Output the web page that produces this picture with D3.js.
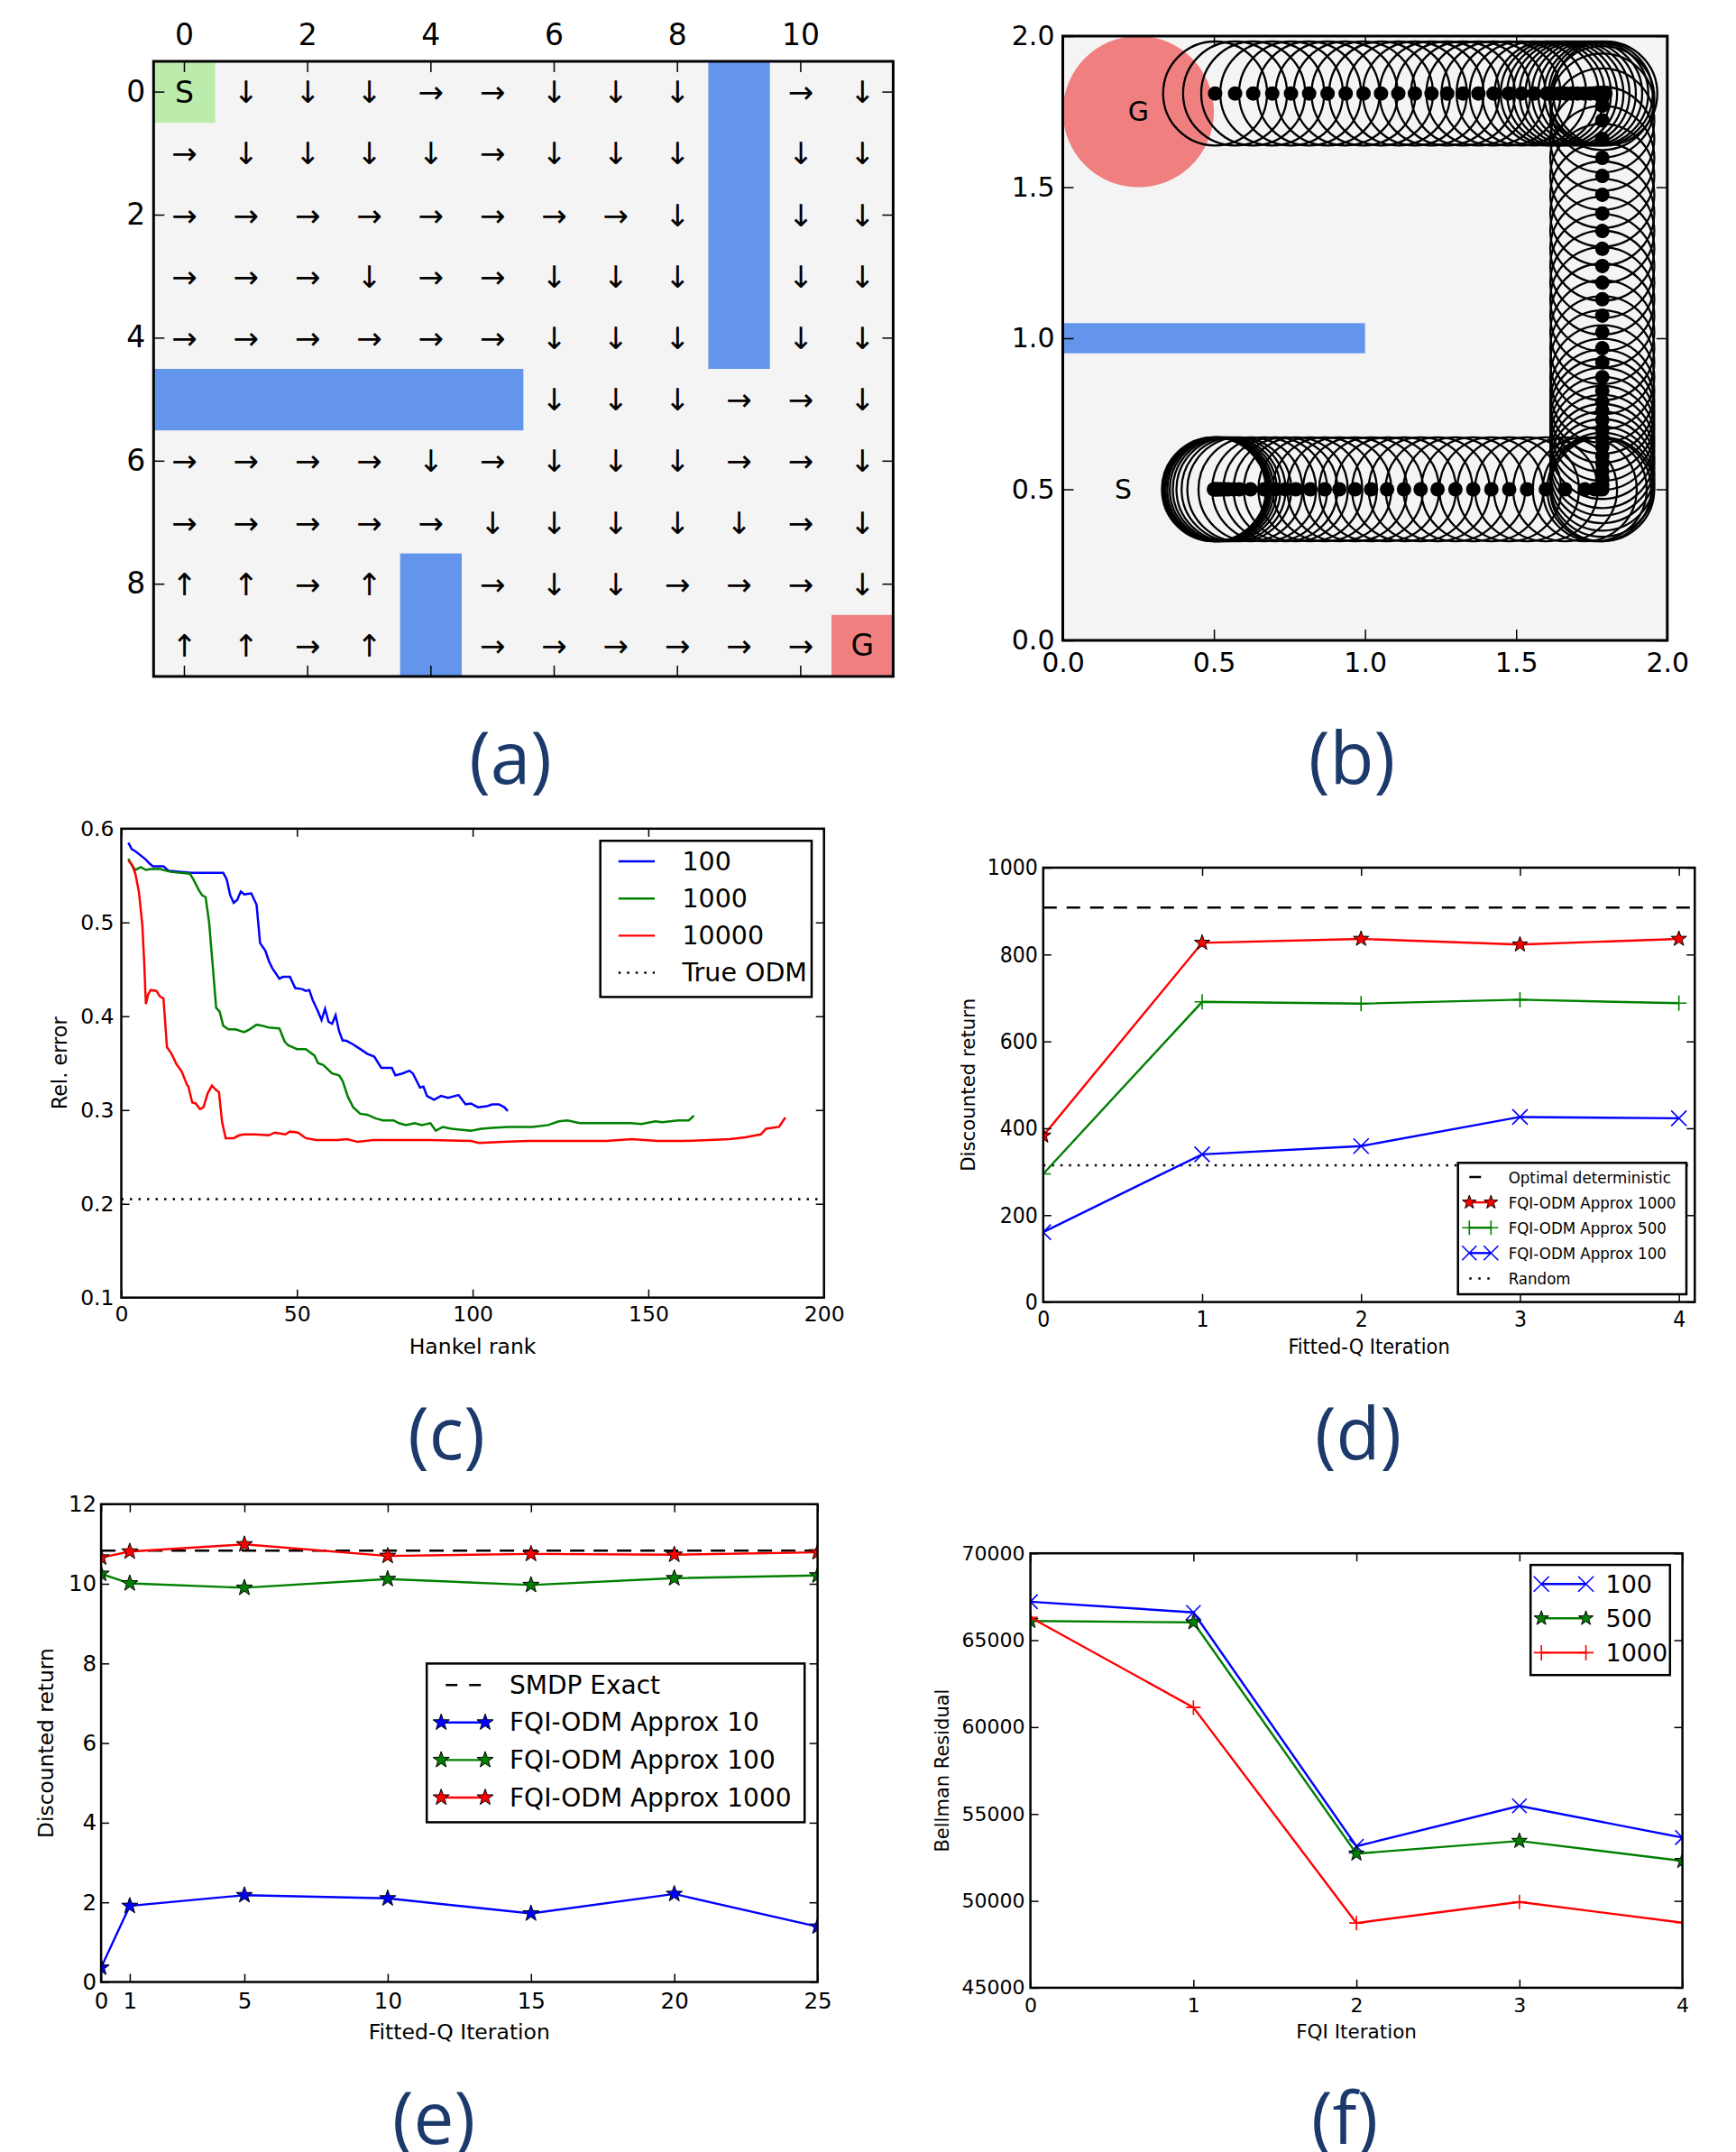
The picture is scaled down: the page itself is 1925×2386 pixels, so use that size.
<!DOCTYPE html>
<html>
<head>
<meta charset="utf-8">
<script src="https://cdn.jsdelivr.net/npm/d3@7"></script>
<style>
  body { margin: 0; background: #fff; }
</style>
</head>
<body>
<svg id="fig" width="1925" height="2386"></svg>
<script>
// ---------- data ----------
// (a) grid world policy
const gridCols = [0, 1, 2, 3, 4, 5, 6, 7, 8, 9, 10, 11];
const gridRows = [0, 1, 2, 3, 4, 5, 6, 7, 8, 9];
const policy = [
  "S↓↓↓→→↓↓↓ →↓",
  "→↓↓↓↓→↓↓↓ ↓↓",
  "→→→→→→→→↓ ↓↓",
  "→→→↓→→↓↓↓ ↓↓",
  "→→→→→→↓↓↓ ↓↓",
  "      ↓↓↓→→↓",
  "→→→→↓→↓↓↓→→↓",
  "→→→→→↓↓↓↓↓→↓",
  "↑↑→↑ →↓↓→→→↓",
  "↑↑→↑ →→→→→→G"
];
const walls = [
  { col: 9, row: 0, w: 1, h: 5 },
  { col: 0, row: 5, w: 6, h: 1 },
  { col: 4, row: 8, w: 1, h: 2 }
];
const startCell = { col: 0, row: 0 };
const goalCell = { col: 11, row: 9 };
const gridXTicks = [0, 2, 4, 6, 8, 10];
const gridYTicks = [0, 2, 4, 6, 8];

// (b) continuous trajectory
const goalB = { x: 0.25, y: 1.75, r: 0.25 };
const obstacleB = { x0: 0, x1: 1.0, y0: 0.95, y1: 1.05 };
const startB = { x: 0.2, y: 0.5 };
const agentRadius = 0.172;
const legBottomY = 0.5;
const legBottomX = [0.500, 0.503, 0.507, 0.512, 0.518, 0.526, 0.536, 0.548, 0.565, 0.584, 0.621, 0.666, 0.703, 0.737, 0.771, 0.819, 0.867, 0.915, 0.967, 1.020, 1.073, 1.129, 1.184, 1.240, 1.299, 1.358, 1.418, 1.477, 1.536, 1.598, 1.662, 1.727, 1.760, 1.775, 1.785];
const legUpX = 1.785;
const legUpY = [0.515, 0.535, 0.560, 0.585, 0.610, 0.640, 0.670, 0.700, 0.730, 0.760, 0.790, 0.826, 0.871, 0.920, 0.967, 1.020, 1.075, 1.129, 1.184, 1.239, 1.296, 1.355, 1.413, 1.475, 1.537, 1.597, 1.660, 1.721, 1.770, 1.795];
const legTopY = 1.81;
const legTopX = [1.795, 1.780, 1.765, 1.745, 1.724, 1.703, 1.683, 1.662, 1.642, 1.621, 1.601, 1.560, 1.518, 1.475, 1.425, 1.375, 1.324, 1.272, 1.220, 1.165, 1.110, 1.053, 0.995, 0.936, 0.876, 0.815, 0.755, 0.693, 0.630, 0.570, 0.504];
const ticksB = [0, 0.5, 1.0, 1.5, 2.0];

// (c) relative error vs Hankel rank
const rank100X = [2, 3, 4, 5, 7, 8, 9, 12, 13.5, 17, 20, 29, 30, 31, 32, 33, 34, 35, 37, 38.5, 39.5, 41, 42, 43, 45, 46, 48, 49.5, 51.5, 52.5, 53.5, 54.5, 56, 57, 58, 59, 60, 61, 62, 63, 64, 66, 68, 70, 72, 74, 77, 78, 80, 82, 83, 85, 86, 87, 89, 91, 93, 96, 98, 99.5, 101.5, 104, 105.5, 107.5, 109, 110];
const rank100Y = [0.585, 0.578, 0.576, 0.573, 0.567, 0.563, 0.560, 0.560, 0.555, 0.554, 0.553, 0.553, 0.546, 0.529, 0.521, 0.524, 0.533, 0.530, 0.531, 0.519, 0.478, 0.470, 0.459, 0.451, 0.440, 0.442, 0.442, 0.430, 0.429, 0.427, 0.428, 0.417, 0.405, 0.396, 0.408, 0.394, 0.392, 0.401, 0.384, 0.374, 0.374, 0.370, 0.365, 0.360, 0.357, 0.345, 0.345, 0.337, 0.339, 0.342, 0.339, 0.324, 0.325, 0.315, 0.311, 0.315, 0.313, 0.316, 0.306, 0.307, 0.303, 0.304, 0.306, 0.306, 0.303, 0.299];
const rank1000X = [2, 3, 4, 5.5, 7, 8.5, 11, 14, 19.5, 20.5, 22, 23, 24, 25, 26, 27, 28, 29, 30.5, 32.5, 35, 36.5, 38.5, 40, 42, 45, 46.5, 47.5, 50, 52.5, 55, 56, 57.5, 60, 62, 63, 64.5, 66, 68, 70, 72.5, 74.5, 77.5, 79, 81, 83.5, 85.5, 88, 89.5, 91.5, 94, 96.5, 99.5, 102.5, 105.5, 110, 114, 117, 121.5, 124.5, 127, 130.5, 138, 145, 148, 152, 154, 158.5, 161.5, 163];
const rank1000Y = [0.568, 0.561, 0.556, 0.559, 0.556, 0.557, 0.557, 0.554, 0.552, 0.546, 0.535, 0.529, 0.527, 0.500, 0.455, 0.409, 0.405, 0.390, 0.386, 0.386, 0.383, 0.386, 0.391, 0.390, 0.388, 0.387, 0.373, 0.369, 0.365, 0.365, 0.358, 0.350, 0.348, 0.339, 0.337, 0.331, 0.314, 0.303, 0.296, 0.295, 0.291, 0.289, 0.289, 0.286, 0.284, 0.286, 0.284, 0.286, 0.278, 0.282, 0.280, 0.279, 0.278, 0.280, 0.281, 0.282, 0.282, 0.282, 0.284, 0.288, 0.289, 0.286, 0.286, 0.286, 0.285, 0.288, 0.287, 0.289, 0.289, 0.294];
const rank10000X = [2, 3, 4, 5, 6, 6.5, 7, 7.7, 8.4, 10, 11, 12, 13, 14.3, 15.7, 17.2, 18.7, 19.1, 20.2, 21.2, 22.4, 23.4, 24.6, 25.8, 26.8, 27.8, 28.7, 29.7, 32, 33.5, 35, 38, 42, 43.7, 46.7, 48, 50.3, 52.5, 55.5, 61.5, 64.3, 67.3, 71.7, 79, 88, 99.5, 101.8, 108.5, 115.8, 130.5, 138, 145.3, 152.6, 160, 167.3, 173.2, 177.6, 180.6, 182, 183.5, 187.2, 189];
const rank10000Y = [0.566, 0.562, 0.552, 0.533, 0.497, 0.459, 0.413, 0.424, 0.428, 0.427, 0.421, 0.419, 0.367, 0.360, 0.349, 0.341, 0.327, 0.325, 0.308, 0.307, 0.301, 0.303, 0.318, 0.326, 0.322, 0.319, 0.287, 0.270, 0.270, 0.273, 0.274, 0.274, 0.273, 0.276, 0.274, 0.277, 0.276, 0.270, 0.268, 0.268, 0.269, 0.266, 0.268, 0.268, 0.268, 0.267, 0.265, 0.266, 0.267, 0.267, 0.267, 0.269, 0.267, 0.267, 0.268, 0.269, 0.271, 0.273, 0.274, 0.280, 0.282, 0.292];
const trueOdmC = 0.205;
const xTicksC = [0, 50, 100, 150, 200];
const yTicksC = [0.1, 0.2, 0.3, 0.4, 0.5, 0.6];

// (d) discounted return vs fitted-Q iteration
const iterD = [0, 1, 2, 3, 4];
const approx1000D = [383, 827, 836, 823, 836];
const approx500D = [295, 691, 687, 696, 688];
const approx100D = [161, 340, 359, 426, 423];
const optimalD = 908;
const randomD = 315;
const yTicksD = [0, 200, 400, 600, 800, 1000];

// (e) discounted return, SMDP
const iterE = [0, 1, 5, 10, 15, 20, 25];
const approx10E = [0.36, 1.91, 2.18, 2.10, 1.72, 2.21, 1.39];
const approx100E = [10.25, 10.01, 9.90, 10.12, 9.97, 10.14, 10.21];
const approx1000E = [10.66, 10.81, 10.99, 10.70, 10.75, 10.73, 10.79];
const smdpExactE = 10.83;
const yTicksE = [0, 2, 4, 6, 8, 10, 12];

// (f) Bellman residual
const iterF = [0, 1, 2, 3, 4];
const resid100F = [67216, 66601, 53141, 55465, 53641];
const resid500F = [66102, 66025, 52719, 53449, 52297];
const resid1000F = [66313, 61129, 48725, 49935, 48744];
const yTicksF = [45000, 50000, 55000, 60000, 65000, 70000];

// ---------- helpers ----------
const SANS = "'DejaVu Sans', sans-serif";
const COND = "'DejaVu Sans Condensed', 'DejaVu Sans', sans-serif";
const BLUE = "#0000ff", GREEN = "#008000", RED = "#ff0000";
const fmtInt = d3.format("d");
const svg = d3.select("#fig");

function starPath(R) {
  const r = R * 0.4;
  let p = "";
  for (let i = 0; i < 10; i++) {
    const a = -Math.PI / 2 + i * Math.PI / 5;
    const rad = i % 2 ? r : R;
    p += (i ? "L" : "M") + (rad * Math.cos(a)).toFixed(2) + "," + (rad * Math.sin(a)).toFixed(2);
  }
  return p + "Z";
}
function markerPath(kind, s) {
  if (kind === "star") return starPath(s);
  if (kind === "plus") return `M${-s},0H${s}M0,${-s}V${s}`;
  return `M${-s},${-s}L${s},${s}M${-s},${s}L${s},${-s}`;
}
function styleMarker(sel, kind, color) {
  if (kind === "star") sel.attr("fill", color).attr("stroke", "#000").attr("stroke-width", 1);
  else sel.attr("fill", "none").attr("stroke", color).attr("stroke-width", 1.6);
}

function makePanel(id, b, xDom, yDom) {
  svg.append("clipPath").attr("id", id).append("rect")
    .attr("x", b.left).attr("y", b.top)
    .attr("width", b.right - b.left).attr("height", b.bottom - b.top);
  const g = svg.append("g");
  const data = g.append("g").attr("clip-path", `url(#${id})`);
  const x = d3.scaleLinear().domain(xDom).range([b.left, b.right]);
  const y = d3.scaleLinear().domain(yDom).range([b.bottom, b.top]);
  return { g, data, x, y, b };
}

function drawAxes(g, b, x, y, o) {
  const tl = o.tickLen || 9;
  const fix = s => {
    s.select(".domain").remove();
    s.attr("font-family", o.font || SANS).attr("font-size", o.fontSize);
    s.selectAll(".tick line").attr("stroke", "#000").attr("stroke-width", 1.5);
    s.selectAll(".tick text").attr("fill", "#000");
  };
  const none = () => "";
  const bot = d3.axisBottom(x).tickValues(o.xTicks).tickSizeInner(-tl).tickSizeOuter(0).tickPadding(o.xPad);
  const top = d3.axisTop(x).tickValues(o.xTicks).tickSizeInner(-tl).tickSizeOuter(0).tickPadding(o.xPad);
  const lft = d3.axisLeft(y).tickValues(o.yTicks).tickSizeInner(-tl).tickSizeOuter(0).tickPadding(o.yPad);
  const rgt = d3.axisRight(y).tickValues(o.yTicks).tickSizeInner(-tl).tickSizeOuter(0).tickFormat(none);
  if (o.xOnTop) { bot.tickFormat(none); if (o.xFormat) top.tickFormat(o.xFormat); }
  else { top.tickFormat(none); if (o.xFormat) bot.tickFormat(o.xFormat); }
  if (o.yFormat) lft.tickFormat(o.yFormat);
  g.append("g").attr("transform", `translate(0,${b.bottom})`).call(bot).call(fix);
  g.append("g").attr("transform", `translate(0,${b.top})`).call(top).call(fix);
  g.append("g").attr("transform", `translate(${b.left},0)`).call(lft).call(fix);
  g.append("g").attr("transform", `translate(${b.right},0)`).call(rgt).call(fix);
  g.append("rect")
    .attr("x", b.left).attr("y", b.top)
    .attr("width", b.right - b.left).attr("height", b.bottom - b.top)
    .attr("fill", "none").attr("stroke", "#000").attr("stroke-width", o.frame || 2.5);
}

function axisLabels(g, b, xl, yl, o) {
  g.append("text")
    .attr("x", (b.left + b.right) / 2).attr("y", b.bottom + o.xOff)
    .attr("text-anchor", "middle").attr("dominant-baseline", "central")
    .attr("font-family", o.xFont || SANS).attr("font-size", o.xSize).text(xl);
  g.append("text")
    .attr("transform", `translate(${b.left - o.yOff},${(b.top + b.bottom) / 2}) rotate(-90)`)
    .attr("text-anchor", "middle").attr("dominant-baseline", "central")
    .attr("font-family", SANS).attr("font-size", o.ySize).text(yl);
}

function series(p, xs, ys, color, marker, ms, lw) {
  const line = d3.line().x(d => p.x(d[0])).y(d => p.y(d[1]));
  const pts = xs.map((v, i) => [v, ys[i]]);
  p.data.append("path").attr("d", line(pts))
    .attr("fill", "none").attr("stroke", color).attr("stroke-width", lw || 2.4);
  if (marker) {
    p.data.append("g").selectAll("path").data(pts).join("path")
      .attr("transform", d => `translate(${p.x(d[0])},${p.y(d[1])})`)
      .attr("d", markerPath(marker, ms))
      .call(s => styleMarker(s, marker, color));
  }
}

function hline(p, v, dash, width) {
  const [x0, x1] = p.x.domain();
  p.data.append("line")
    .attr("x1", p.x(x0)).attr("x2", p.x(x1))
    .attr("y1", p.y(v)).attr("y2", p.y(v))
    .attr("stroke", "#000").attr("stroke-width", width || 2.2)
    .attr("stroke-dasharray", dash);
}

function legend(g, L, items) {
  g.append("rect").attr("x", L.x).attr("y", L.y).attr("width", L.w).attr("height", L.h)
    .attr("fill", "#fff").attr("stroke", "#000").attr("stroke-width", 2.5);
  items.forEach((it, i) => {
    const yy = L.row0 + i * L.step;
    const ln = g.append("line").attr("x1", L.h0).attr("x2", L.h1).attr("y1", yy).attr("y2", yy)
      .attr("stroke", it.color).attr("stroke-width", it.width || 2.4);
    if (it.dash) ln.attr("stroke-dasharray", it.dash).attr("stroke-dashoffset", it.offset || 0);
    if (it.marker) {
      [L.h0, L.h1].forEach(hx => {
        g.append("path").attr("transform", `translate(${hx},${yy})`)
          .attr("d", markerPath(it.marker, L.ms))
          .call(s => styleMarker(s, it.marker, it.color));
      });
    }
    g.append("text").attr("x", L.tx).attr("y", yy)
      .attr("dominant-baseline", "central")
      .attr("font-family", L.font || SANS).attr("font-size", L.fs).text(it.label);
  });
}

// ---------- (a) grid world ----------
{
  const b = { left: 170.3, right: 990.4, top: 68, bottom: 750 };
  const g = svg.append("g");
  const x = d3.scaleBand().domain(gridCols).range([b.left, b.right]);
  const y = d3.scaleBand().domain(gridRows).range([b.top, b.bottom]);
  g.append("rect").attr("x", b.left).attr("y", b.top)
    .attr("width", b.right - b.left).attr("height", b.bottom - b.top).attr("fill", "#f4f4f4");
  g.append("rect").attr("x", x(startCell.col)).attr("y", y(startCell.row))
    .attr("width", x.bandwidth()).attr("height", y.bandwidth()).attr("fill", "#bcecab");
  g.append("rect").attr("x", x(goalCell.col)).attr("y", y(goalCell.row))
    .attr("width", x.bandwidth()).attr("height", y.bandwidth()).attr("fill", "#f08080");
  g.selectAll(".wall").data(walls).join("rect")
    .attr("x", d => x(d.col)).attr("y", d => y(d.row))
    .attr("width", d => x.bandwidth() * d.w).attr("height", d => y.bandwidth() * d.h)
    .attr("fill", "#6495ed");
  const cells = [];
  policy.forEach((row, r) => Array.from(row).forEach((ch, c) => { if (ch !== " ") cells.push({ r, c, ch }); }));
  g.selectAll(".arrow").data(cells).join("text")
    .attr("x", d => x(d.c) + x.bandwidth() / 2)
    .attr("y", d => y(d.r) + y.bandwidth() / 2)
    .attr("text-anchor", "middle").attr("dominant-baseline", "central")
    .attr("font-family", SANS).attr("font-size", d => (d.ch === "S" || d.ch === "G") ? 33 : 34)
    .text(d => d.ch);
  drawAxes(g, b, x, y, { xTicks: gridXTicks, yTicks: gridYTicks, xOnTop: true, fontSize: 33, xPad: 18, yPad: 9, tickLen: 12, frame: 3 });
}

// ---------- (b) trajectory ----------
{
  const b = { left: 1178.5, right: 1848.8, top: 40, bottom: 710 };
  const p = makePanel("clipB", b, [0, 2], [0, 2]);
  const k = p.x(1) - p.x(0);
  p.data.append("rect").attr("x", b.left).attr("y", b.top)
    .attr("width", b.right - b.left).attr("height", b.bottom - b.top).attr("fill", "#f4f4f4");
  p.data.append("circle").attr("cx", p.x(goalB.x)).attr("cy", p.y(goalB.y)).attr("r", goalB.r * k).attr("fill", "#f08080");
  p.data.append("rect").attr("x", p.x(obstacleB.x0)).attr("y", p.y(obstacleB.y1))
    .attr("width", p.x(obstacleB.x1) - p.x(obstacleB.x0)).attr("height", p.y(obstacleB.y0) - p.y(obstacleB.y1))
    .attr("fill", "#6495ed");
  p.data.append("text").attr("x", p.x(goalB.x)).attr("y", p.y(goalB.y))
    .attr("text-anchor", "middle").attr("dominant-baseline", "central")
    .attr("font-family", SANS).attr("font-size", 30).text("G");
  p.data.append("text").attr("x", p.x(startB.x)).attr("y", p.y(startB.y))
    .attr("text-anchor", "middle").attr("dominant-baseline", "central")
    .attr("font-family", SANS).attr("font-size", 30).text("S");
  const traj = [
    ...legBottomX.map(v => [v, legBottomY]),
    ...legUpY.map(v => [legUpX, v]),
    ...legTopX.map(v => [v, legTopY])
  ];
  p.data.append("g").selectAll("circle").data(traj).join("circle")
    .attr("cx", d => p.x(d[0])).attr("cy", d => p.y(d[1])).attr("r", agentRadius * k)
    .attr("fill", "none").attr("stroke", "#000").attr("stroke-width", 2.3);
  p.data.append("g").selectAll("circle").data(traj).join("circle")
    .attr("cx", d => p.x(d[0])).attr("cy", d => p.y(d[1])).attr("r", 8).attr("fill", "#000");
  drawAxes(p.g, b, p.x, p.y, { xTicks: ticksB, yTicks: ticksB, xFormat: d3.format(".1f"), yFormat: d3.format(".1f"), fontSize: 30, xPad: 14, yPad: 9, tickLen: 12, frame: 3 });
}

// ---------- (c) relative error ----------
{
  const b = { left: 134.5, right: 913.7, top: 918.8, bottom: 1438.7 };
  const p = makePanel("clipC", b, [0, 200], [0.1, 0.6]);
  hline(p, trueOdmC, "2.5 7", 2.5);
  series(p, rank100X, rank100Y, BLUE, null, 0, 2.5);
  series(p, rank1000X, rank1000Y, GREEN, null, 0, 2.5);
  series(p, rank10000X, rank10000Y, RED, null, 0, 2.5);
  drawAxes(p.g, b, p.x, p.y, { xTicks: xTicksC, yTicks: yTicksC, yFormat: d3.format(".1f"), fontSize: 23.5, xPad: 10, yPad: 8 });
  axisLabels(p.g, b, "Hankel rank", "Rel. error", { xOff: 54, yOff: 69, xSize: 23.5, ySize: 22.4 });
  legend(p.g, { x: 665.7, y: 932.2, w: 234.3, h: 173.2, h0: 685.8, h1: 726, tx: 756.4, row0: 955, step: 41.2, fs: 28.5 }, [
    { label: "100", color: BLUE },
    { label: "1000", color: GREEN },
    { label: "10000", color: RED },
    { label: "True ODM", color: "#000", dash: "2.5 7", width: 2.5 }
  ]);
}

// ---------- (d) discounted return ----------
{
  const b = { left: 1156.8, right: 1879.3, top: 962, bottom: 1443.6 };
  const p = makePanel("clipD", b, [0, 4.1], [0, 1000]);
  hline(p, optimalD, "15 11", 2.5);
  hline(p, randomD, "2.5 7", 2.5);
  series(p, iterD, approx1000D, RED, "star", 9);
  series(p, iterD, approx500D, GREEN, "plus", 8.5);
  series(p, iterD, approx100D, BLUE, "cross", 8.5);
  drawAxes(p.g, b, p.x, p.y, { xTicks: iterD, yTicks: yTicksD, xFormat: fmtInt, yFormat: fmtInt, font: COND, fontSize: 24.5, xPad: 10, yPad: 6 });
  axisLabels(p.g, b, "Fitted-Q Iteration", "Discounted return", { xOff: 49, yOff: 83, xFont: COND, xSize: 23.3, ySize: 21.3 });
  legend(p.g, { x: 1616.7, y: 1289.3, w: 253.3, h: 145.7, h0: 1629.3, h1: 1653.3, tx: 1672.7, row0: 1305, step: 28.1, fs: 18.5, font: COND, ms: 8 }, [
    { label: "Optimal deterministic", color: "#000", dash: "13 40", width: 2.5 },
    { label: "FQI-ODM Approx 1000", color: RED, marker: "star" },
    { label: "FQI-ODM Approx 500", color: GREEN, marker: "plus" },
    { label: "FQI-ODM Approx 100", color: BLUE, marker: "cross" },
    { label: "Random", color: "#000", dash: "2.5 7.5", width: 2.5 }
  ]);
}

// ---------- (e) discounted return, SMDP ----------
{
  const b = { left: 112.1, right: 906.6, top: 1667.7, bottom: 2197.5 };
  const p = makePanel("clipE", b, [0, 25], [0, 12]);
  hline(p, smdpExactE, "16 10", 2.5);
  series(p, iterE, approx10E, BLUE, "star", 9.5);
  series(p, iterE, approx100E, GREEN, "star", 9.5);
  series(p, iterE, approx1000E, RED, "star", 9.5);
  drawAxes(p.g, b, p.x, p.y, { xTicks: iterE, yTicks: yTicksE, xFormat: fmtInt, yFormat: fmtInt, fontSize: 24.5, xPad: 12, yPad: 5 });
  axisLabels(p.g, b, "Fitted-Q Iteration", "Discounted return", { xOff: 55, yOff: 61, xSize: 23.5, ySize: 23.4 });
  legend(p.g, { x: 473.2, y: 1844.4, w: 419, h: 176, h0: 489.2, h1: 538, tx: 565, row0: 1868.2, step: 41.6, fs: 28, ms: 9.5 }, [
    { label: "SMDP Exact", color: "#000", dash: "13 13", offset: -5, width: 2.5 },
    { label: "FQI-ODM Approx 10", color: BLUE, marker: "star" },
    { label: "FQI-ODM Approx 100", color: GREEN, marker: "star" },
    { label: "FQI-ODM Approx 1000", color: RED, marker: "star" }
  ]);
}

// ---------- (f) Bellman residual ----------
{
  const b = { left: 1142.6, right: 1865.6, top: 1722.2, bottom: 2203.9 };
  const p = makePanel("clipF", b, [0, 4], [45000, 70000]);
  series(p, iterF, resid100F, BLUE, "cross", 8);
  series(p, iterF, resid500F, GREEN, "star", 9);
  series(p, iterF, resid1000F, RED, "plus", 8);
  drawAxes(p.g, b, p.x, p.y, { xTicks: iterF, yTicks: yTicksF, xFormat: fmtInt, yFormat: fmtInt, fontSize: 22, xPad: 11, yPad: 6 });
  axisLabels(p.g, b, "FQI Iteration", "Bellman Residual", { xOff: 49, yOff: 98, xSize: 21.5, ySize: 21 });
  legend(p.g, { x: 1697.2, y: 1735.1, w: 154.6, h: 122.1, h0: 1709.2, h1: 1758.6, tx: 1780.5, row0: 1756.2, step: 38.1, fs: 27, ms: 8.5 }, [
    { label: "100", color: BLUE, marker: "cross" },
    { label: "500", color: GREEN, marker: "star" },
    { label: "1000", color: RED, marker: "plus" }
  ]);
}

// ---------- panel letters ----------
const panelLetters = [
  { t: "(a)", x: 566, y: 837 }, { t: "(b)", x: 1499, y: 837 },
  { t: "(c)", x: 495, y: 1586 }, { t: "(d)", x: 1506, y: 1586 },
  { t: "(e)", x: 481, y: 2345 }, { t: "(f)", x: 1491, y: 2345 }
];
svg.append("g").selectAll("text").data(panelLetters).join("text")
  .attr("x", d => d.x).attr("y", d => d.y)
  .attr("text-anchor", "middle").attr("dominant-baseline", "central")
  .attr("font-family", "'Open Sans', sans-serif").attr("font-size", 80)
  .attr("fill", "#1b3a6b").text(d => d.t);
</script>
</body>
</html>
